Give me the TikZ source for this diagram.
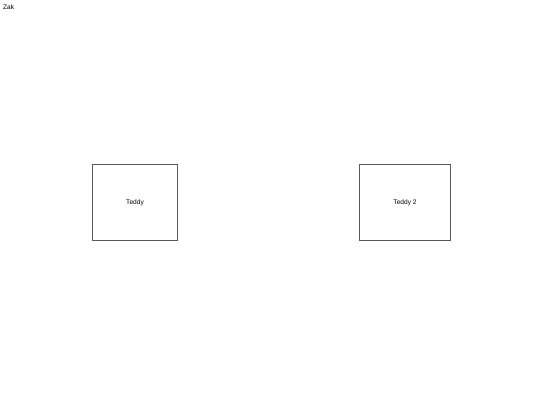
\documentclass[tikz,border=0pt]{standalone}
\usepackage{fontspec}
\setmainfont{Liberation Sans}
\begin{document}
\begin{tikzpicture}[x=1pt,y=-1pt,
  box/.style={draw=black!65, line width=0.6pt, fill=white},
  lbl/.style={font=\fontsize{6.6}{7.5}\selectfont, text=black, inner sep=0pt}]
\useasboundingbox (0,0) rectangle (540,405);
\node[lbl, anchor=west] (zak) at (3,7.5) {Zak};
\draw[box] (92.3,164) rectangle (177.7,240);
\node[lbl] (teddy) at (135,203) {Teddy};
\draw[box] (359.3,164) rectangle (450.7,240);
\node[lbl] (teddy2) at (405,203) {Teddy 2};
\end{tikzpicture}
\end{document}
